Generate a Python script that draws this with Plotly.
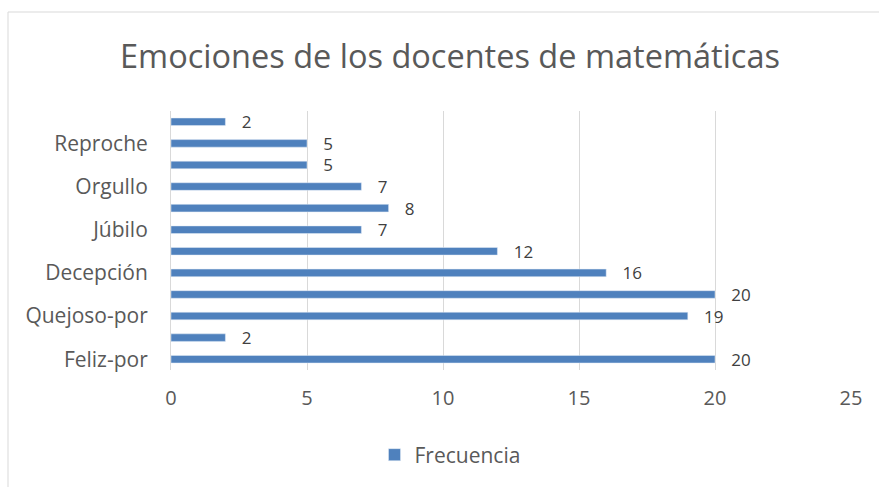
import plotly.graph_objects as go

# Categories bottom-to-top (hidden labels are guesses; only alternate labels shown in the reference)
categories = ["Feliz-por", "Regodeo", "Quejoso-por", "Resentimiento", "Decepción", "Alivio",
              "Júbilo", "Aflicción", "Orgullo", "Vergüenza", "Reproche", "Admiración"]
values = [20, 2, 19, 20, 16, 12, 7, 8, 7, 5, 5, 2]
shown_labels = ["Feliz-por", "Quejoso-por", "Decepción", "Júbilo", "Orgullo", "Reproche"]
x_ticks = [0, 5, 10, 15, 20, 25]

FONT = "Open Sans"
GRAY = "#595959"

fig = go.Figure()
fig.add_trace(go.Bar(
    y=categories, x=values, orientation="h", name="Frecuencia",
    marker=dict(color="#4F81BD"),
    text=["   " + str(v) for v in values], textposition="outside", constraintext="none",
    textfont=dict(size=17, color="#404040", family=FONT),
    cliponaxis=False,
))

fig.update_layout(
    width=879, height=487,
    margin=dict(l=171, r=28, t=111, b=117),
    paper_bgcolor="white", plot_bgcolor="white",
    bargap=0.65,
    title=dict(text="Emociones de los docentes de matemáticas", x=450 / 879, xanchor="center",
               y=1 - 57 / 487, yanchor="middle",
               font=dict(size=32.5, color=GRAY, family=FONT)),
    showlegend=True,
    legend=dict(orientation="h", x=450 / 879, xanchor="center",
                xref="container", y=(487 - 455) / 487, yref="container", yanchor="middle",
                font=dict(size=21, color=GRAY, family=FONT)),
    xaxis=dict(range=[0, 25], tickvals=x_ticks, showgrid=True, gridcolor="#d9d9d9",
               gridwidth=1, zeroline=False, showline=False,
               tickfont=dict(size=20, color=GRAY, family=FONT), ticklabelstandoff=14),
    yaxis=dict(categoryorder="array", categoryarray=categories,
               tickvals=shown_labels, ticktext=shown_labels,
               showline=True, linecolor="#d9d9d9", linewidth=1, showgrid=False,
               tickfont=dict(size=21, color=GRAY, family=FONT), ticklabelstandoff=18),
    shapes=[dict(type="rect", xref="paper", yref="paper",
                 x0=(8 - 171) / 680, x1=(890 - 171) / 680,
                 y0=(370 - 495) / 259, y1=(370 - 12) / 259,
                 line=dict(color="#d9d9d9", width=1), layer="below")],
)

fig.write_html("out.html", config={"displayModeBar": False},
               post_script="document.body.style.margin='0';document.body.style.overflow='hidden';")
